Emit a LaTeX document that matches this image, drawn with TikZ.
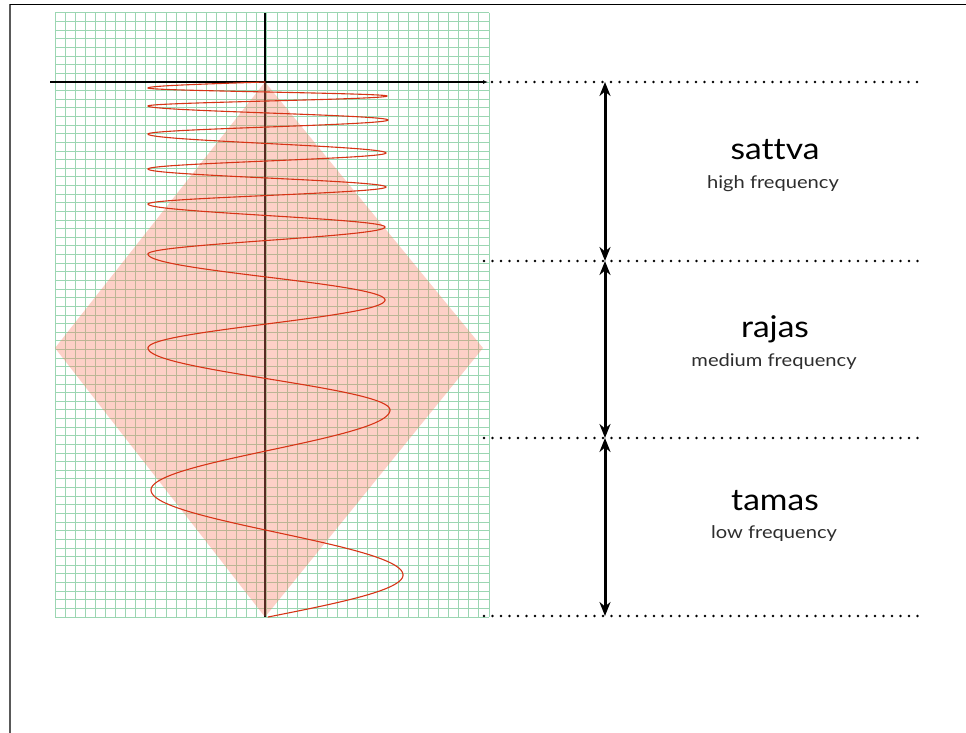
\documentclass[tikz,border=0pt]{standalone}
\usepackage{fontspec}
\setmainfont{Lato}[Ligatures=NoCommon]
\usetikzlibrary{arrows.meta}
\definecolor{gridgreen}{RGB}{155,214,178}
\definecolor{wavered}{RGB}{214,52,22}
\definecolor{rhombus}{RGB}{250,120,95}
\definecolor{subgray}{RGB}{45,45,45}
\begin{document}
\begin{tikzpicture}[x=1pt,y=-1pt,
  gridline/.style={draw=gridgreen, line width=1pt},
  axisline/.style={draw=black, line width=1.6pt},
  wave/.style={draw=wavered, line width=1.1pt, line cap=round, line join=round},
  rhombusfill/.style={fill=rhombus, fill opacity=0.35},
  dotline/.style={draw=black, line width=2.7pt, line cap=round, dash pattern=on 0pt off 8.5pt},
  dimarrow/.style={draw=black, line width=3pt, {Stealth[length=14pt,width=11pt]}-{Stealth[length=14pt,width=11pt]}},
  bandtitle/.style={anchor=base, font=\fontsize{30}{32}\selectfont, xscale=1.12, inner sep=0pt},
  bandsub/.style={anchor=base, font=\fontsize{17.5}{20}\selectfont, text=subgray, xscale=1.15, inner sep=0pt}]
\useasboundingbox (0,0) rectangle (966,733);

% frame edges
\draw[line width=1.5pt, draw=black!65] (10,733) -- (10,4.5);
\draw[line width=1.4pt] (10,4.5) -- (966,4.5);

% graph paper
\foreach \i in {0,...,43}
  \draw[gridline] ({55+\i*10.093},13) -- ({55+\i*10.093},617);
\foreach \j in {0,...,70}
  \draw[gridline] (55,{13+\j*8.629}) -- (489,{13+\j*8.629});

% axes
\coordinate (xa) at (50,82);
\coordinate (xb) at (488,82);
\coordinate (ya) at (265,13);
\coordinate (yb) at (265,617);
\draw[axisline, -{Latex[length=5pt,width=4pt]}] (xa) -- (xb);
\draw[axisline] (ya) -- (yb);

% translucent rhombus
\coordinate (rt) at (265,82);
\coordinate (rr) at (483,348);
\coordinate (rb) at (265,617);
\coordinate (rl) at (55,348);
\fill[rhombusfill] (rt) -- (rr) -- (rb) -- (rl) -- cycle;

% wave whose half-periods lengthen downwards:
% opening quarter, then half-waves from crest to crest, then closing quarter
\draw[wave] plot[domain=0:1, samples=30, variable=\u]
  ({265 - 117*sin(90*\u)}, {82 + 6*\u});
\foreach \ya/\xa/\yb/\xb in {
    88/148/96/387, 96/387/106/148, 106/148/120/388, 120/388/134/148,
    134/148/153/386, 153/386/169/148, 169/148/187/386, 187/386/204/148,
    204/148/227/385, 227/385/254/148, 254/148/300/385, 300/385/348/148,
    348/148/410/390, 410/390/490/151, 490/151/575/403}
  \draw[wave] plot[domain=0:1, samples=60, variable=\u]
    ({(\xa+\xb)/2 + (\xa-\xb)/2*cos(180*\u)}, {\ya + (\yb-\ya)*\u});
\draw[wave] plot[domain=0:1, samples=40, variable=\u]
  ({268 + 135*cos(90*\u)}, {575 + 42*\u});

% band boundaries
\coordinate (d0a) at (492,82);  \coordinate (d0b) at (922,82);
\coordinate (d1a) at (484,261); \coordinate (d1b) at (922,261);
\coordinate (d2a) at (484,438); \coordinate (d2b) at (922,438);
\coordinate (d3a) at (484,616); \coordinate (d3b) at (922,616);
\foreach \k in {0,1,2,3}
  \draw[dotline] (d\k a) -- (d\k b);

% band extents
\coordinate (m0) at (605,82);
\coordinate (m1) at (605,261);
\coordinate (m2) at (605,438);
\coordinate (m3) at (605,616);
\draw[dimarrow] (m0) -- (m1);
\draw[dimarrow] (m1) -- (m2);
\draw[dimarrow] (m2) -- (m3);

% band labels
\node[bandtitle] (sattva) at (775,159) {sattva};
\node[bandsub] (sattvasub) at (773,188) {high frequency};
\node[bandtitle] (rajas) at (775,337) {rajas};
\node[bandsub] (rajassub) at (774,366) {medium frequency};
\node[bandtitle] (tamas) at (775,510) {tamas};
\node[bandsub] (tamassub) at (774,538) {low frequency};
\end{tikzpicture}
\end{document}
